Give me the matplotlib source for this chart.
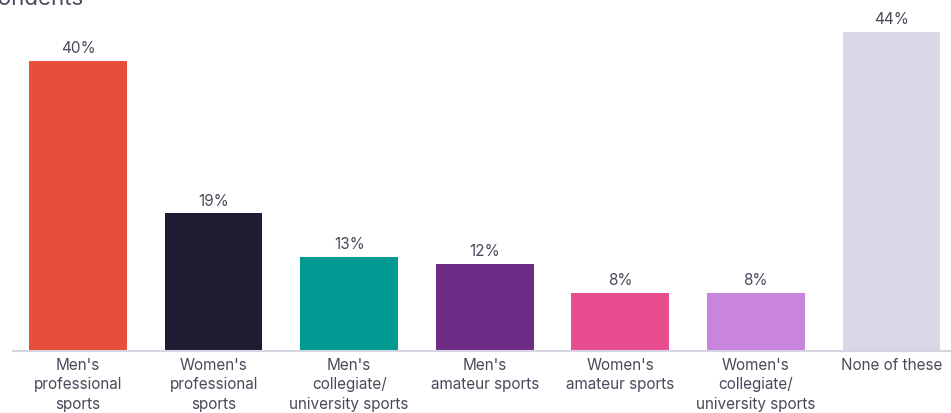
import matplotlib.pyplot as plt

categories = ["Men's\nprofessional\nsports", "Women's\nprofessional\nsports",
              "Men's\ncollegiate/\nuniversity sports", "Men's\namateur sports",
              "Women's\namateur sports", "Women's\ncollegiate/\nuniversity sports",
              "None of these"]
values = [40, 19, 13, 12, 8, 8, 44]
colors = ['#E84E3C', '#1E1C33', '#009A93', '#6F2C86', '#E84E8F', '#C985DD', '#DAD8E7']

plt.rcParams['font.family'] = ['Inter', 'DejaVu Sans']

W, H = 951, 414
fig = plt.figure(figsize=(W / 100, H / 100), dpi=100)
ax = fig.add_axes([13 / W, (H - 352) / H, 1 - 13 / W, (352 - 4) / H])

xs = range(len(values))
ax.bar(xs, values, width=0.72, color=colors, zorder=2)
for x, v in zip(xs, values):
    ax.annotate(f'{v}%', (x, v), xytext=(0, 4), textcoords='offset points',
                ha='center', va='bottom', fontsize=11, color='#4a4a5a')

ax.set_xlim(-0.48, 6.44)
ax.set_ylim(0, 48)
ax.set_xticks(list(xs))
ax.set_xticklabels(categories, fontsize=11, color='#4a4a5a', linespacing=1.4)
ax.tick_params(axis='x', length=0, pad=4)
ax.set_yticks([])
for s in ['top', 'right', 'left']:
    ax.spines[s].set_visible(False)
ax.spines['bottom'].set_color('#D5D4E2')
ax.spines['bottom'].set_linewidth(1.5)

# subtitle sits partly above the canvas edge
fig.text(-0.11, 1.003, '% of respondents', fontsize=16, color='#4a4a5a',
         ha='left', va='center')

fig.savefig('out.png', dpi=100)
